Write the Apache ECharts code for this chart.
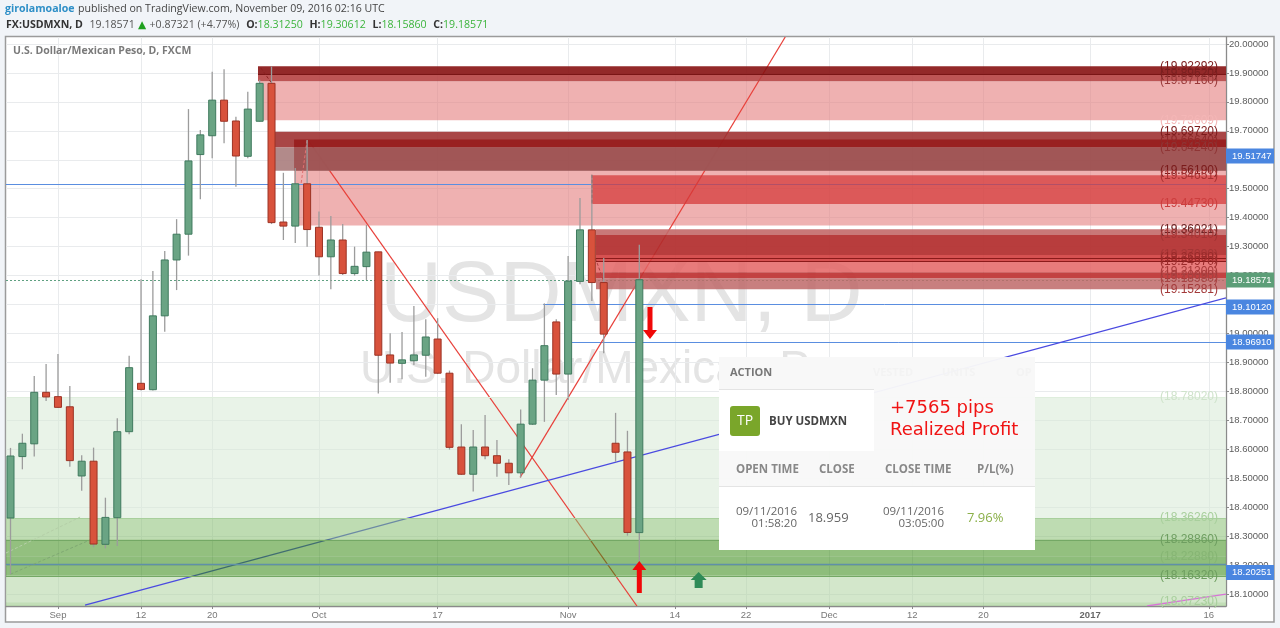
<!DOCTYPE html>
<html>
<head>
<meta charset="utf-8">
<title>USDMXN</title>
<script src="https://cdn.jsdelivr.net/npm/echarts@6/dist/echarts.min.js"></script>
<style>
html,body{margin:0;padding:0;background:#f1f4f8;}
#main{width:1280px;height:628px;}
</style>
</head>
<body>
<div id="main"></div>
<script>
// daily candles, index 0 = 2016-08-26, index 53 = 2016-11-09
var opens = [18.363,18.575,18.619,18.797,18.782,18.747,18.508,18.559,18.272,18.364,18.661,18.828,18.806,19.061,19.254,19.343,19.618,19.683,19.806,19.734,19.612,19.733,19.864,19.385,19.371,19.517,19.367,19.265,19.323,19.207,19.231,19.282,18.926,18.897,18.906,18.925,18.981,18.863,18.608,18.514,18.608,18.578,18.552,18.519,18.687,18.839,19.040,18.860,19.180,19.358,19.176,18.621,18.591,18.3125];
var highs = [18.605,18.654,18.853,18.895,18.929,18.819,18.580,18.606,18.433,18.707,18.923,19.187,19.216,19.285,19.395,19.775,19.703,19.904,19.913,19.749,19.835,19.876,19.922,19.555,19.572,19.668,19.421,19.406,19.378,19.300,19.375,19.282,19.001,19.005,19.095,19.049,19.053,18.872,18.687,18.667,18.719,18.632,18.566,18.738,18.880,19.104,19.049,19.268,19.468,19.548,19.261,18.726,18.664,19.30612];
var lows = [18.169,18.531,18.575,18.767,18.743,18.540,18.457,18.262,18.258,18.266,18.652,18.803,18.803,19.006,19.150,19.269,19.464,19.605,19.657,19.507,19.605,19.732,19.378,19.323,19.313,19.300,19.200,19.153,19.202,19.200,19.185,18.793,18.830,18.842,18.891,18.851,18.860,18.599,18.511,18.454,18.566,18.505,18.477,18.503,18.684,18.695,18.788,18.770,19.170,19.112,18.932,18.557,18.302,18.1586];
var closes = [18.577,18.621,18.797,18.781,18.745,18.561,18.559,18.273,18.365,18.661,18.882,18.807,19.061,19.254,19.343,19.596,19.686,19.806,19.733,19.613,19.775,19.864,19.383,19.371,19.517,19.359,19.265,19.323,19.207,19.232,19.281,18.925,18.898,18.909,18.926,18.988,18.863,18.607,18.514,18.608,18.578,18.552,18.519,18.687,18.839,18.958,18.860,19.181,19.358,19.176,18.998,18.590,18.313,19.18571];

var xTicks = [4,11,17,26,36,47,56,62,69,76,82,91,101];
var xTickLabels = ['Sep','12','20','Oct','17','Nov','14','22','Dec','12','20','2017','16'];
var yTicks = [20,19.9,19.8,19.7,19.6,19.5,19.4,19.3,19.2,19.1,19,18.9,18.8,18.7,18.6,18.5,18.4,18.3,18.2,18.1];

var xMin = -0.38, xMax = 102.45, yMin = 18.059, yMax = 20.024;

// supply / demand zones, the pale ones go under the drawn lines
var paleStart = [20.95,23.9,xMin,xMin,xMin];
var paleTop = [19.8716,19.5619,18.7802,18.1632,18.0723];
var paleBottom = [19.73609,19.3728,18.3626,18.0723,18.059];
var paleColors = ['rgba(228,125,125,.6)','rgba(228,125,125,.6)','rgba(215,233,213,.55)','rgba(175,211,160,.55)','rgba(144,195,124,.55)'];

var zoneStart = [20.86,20.86,22,22,23.9,23.9,48.93,49.35,49.35,49.35,49.35,49.35,49.35,xMin,xMin,xMin];
var zoneTop = [19.92292,19.8962,19.6972,19.6424,19.6696,19.6424,19.54651,19.36021,19.3401,19.2709,19.2497,19.212,19.1898,18.3626,18.2886,18.2288];
var zoneBottom = [19.8962,19.8716,19.6424,19.5619,19.6424,19.5619,19.4473,19.3401,19.2709,19.2497,19.212,19.1898,19.15281,18.2886,18.2288,18.1632];
var zoneColors = ['rgba(135,18,18,.9)','rgba(182,66,66,.9)','rgba(160,50,50,.9)','rgba(170,125,125,.9)','rgba(150,26,26,.85)','rgba(158,80,80,.9)','rgba(212,55,55,.72)','rgba(195,105,105,.9)','rgba(178,45,45,.92)','rgba(210,62,62,.9)','rgba(228,100,100,.85)','rgba(190,50,50,.92)','rgba(190,105,105,.85)','rgba(137,191,115,.55)','rgba(58,140,22,.55)','rgba(50,134,14,.55)'];

// drawn lines, from x,y to x,y
var lineX1 = [xMin,44.9,47.3,xMin,25.08,42.95,6.28,95.8];
var lineY1 = [19.51747,19.1012,18.9691,19.18571,19.668,18.503,18.062,18.059];
var lineX2 = [xMax,xMax,xMax,xMax,52.8,65.3,xMax,xMax];
var lineY2 = [19.51747,19.1012,18.9691,19.18571,18.059,20.024,19.123,18.1];
var lineStyles = [
	{stroke:'#5a8ee0',lineWidth:1},{stroke:'#5a8ee0',lineWidth:1},{stroke:'#5a8ee0',lineWidth:1},
	{stroke:'#5fa081',lineWidth:1,lineDash:[2,2]},{stroke:'#e8403a',lineWidth:1.2},{stroke:'#e8403a',lineWidth:1.2},{stroke:'#4a4ae0',lineWidth:1.3},
	{stroke:'#d873d8',lineWidth:1.3}
];

// thin lines that sit on top of the zones
var edgeX1 = [xMin,20.86,49.35,49.35,xMin,xMin,xMin,xMin];
var edgeY = [18.20251,19.8962,19.2608,19.2497,18.2886,18.1632,18.3626,18.7802];
var edgeStyles = [
	{stroke:'#5f90a8',lineWidth:1.3},{stroke:'#7a1515',lineWidth:1},{stroke:'#8b1a1a',lineWidth:1},{stroke:'#8b1a1a',lineWidth:1},
	{stroke:'#74a865',lineWidth:1},{stroke:'#74a865',lineWidth:1},{stroke:'#a8cf9c',lineWidth:1},{stroke:'#dfeedd',lineWidth:1}
];

var dashX1 = [-0.38,0,21.1,24.5,49,49.3];
var dashY1 = [18.242,18.169,19.917,19.52,19.548,19.26];
var dashX2 = [5.86,6.7,22,25,49,50];
var dashY2 = [18.366,18.287,19.865,19.668,19.447,19.18];
var dashColors = ['#b5cfa8','#7fa873','#8b2020','#e07070','#7a1515','#b04040'];

// level texts on the right of the zones
var levelValues = [19.92292,19.8962,19.8716,19.73609,19.6972,19.6664,19.6424,19.5619,19.54651,19.4473,19.3728,19.36021,19.3401,19.2709,19.2608,19.2497,19.212,19.2009,19.1898,19.15281,18.7802,18.3626,18.2886,18.2288,18.1632,18.0723];
var levelTexts = ['(19.92292)','(19.89620)','(19.87160)','(19.73609)','(19.69720)','(19.66640)','(19.64240)','(19.56190)','(19.54651)','(19.44730)','(19.37280)','(19.36021)','(19.34010)','(19.27090)','(19.26080)','(19.24970)','(19.21200)','(19.20090)','(19.18980)','(19.15281)','(18.78020)','(18.36260)','(18.28860)','(18.22880)','(18.16320)','(18.07230)'];
var levelColors = ['#7a1a1a','#7a2020','#9a3a3a','#f4b6b6','#7a1a1a','#8f2a2a','#8f3535','#7a1a1a','#a83232','#cc3d3d','#e3b3b3','#6b2424','#a33535','#a33535','#9a2a2a','#9a2a2a','#a83a3a','#a83a3a','#a84444','#a33a3a','#cfe3cb','#a8cf9c','#6e9e60','#86b574','#6e9e60','#a8cf9c'];

// price tags on the axis, placed where the picture has them
var tagTexts = ['19.51747','19.18571','19.10120','18.96910','18.20251'];
var tagPositions = [19.613,19.185,19.0915,18.971,18.1745];
var tagColors = ['#4a86e0','#5c9e78','#4a86e0','#4a86e0','#4a86e0'];

// arrows
var arrowX = [53,53.9,58];
var arrowY = [18.159,19.036,18.149];

var chart = echarts.init(document.getElementById('main'));

function candleItem(params,api){
	var i = api.value(0);
	var o = api.coord([i,api.value(1)]);
	var h = api.coord([i,api.value(2)]);
	var l = api.coord([i,api.value(3)]);
	var c = api.coord([i,api.value(4)]);
	var up = api.value(4) >= api.value(1);
	var top = Math.min(o[1],c[1]), bottom = Math.max(o[1],c[1]);
	return {type:'group',children:[
		{type:'line',shape:{x1:o[0],y1:h[1],x2:o[0],y2:l[1]},style:{stroke:'#9c9c9c',lineWidth:1.3}},
		{type:'rect',shape:{x:o[0]-3.5,y:top,width:7,height:Math.max(bottom-top,1)},style:{fill:up?'#6aa484':'#d8523c',stroke:up?'#3f7a5e':'#9c3325',lineWidth:1}}
	]};
}

function zoneItem(colors){
	return function(params,api){
		var a = api.coord([api.value(0),api.value(1)]);
		var b = api.coord([xMax,api.value(2)]);
		return {type:'rect',shape:{x:a[0],y:a[1],width:b[0]-a[0],height:b[1]-a[1]},style:{fill:colors[params.dataIndex]}};
	};
}

function lineItem(styles){
	return function(params,api){
		var a = api.coord([api.value(0),api.value(1)]);
		var b = api.coord([api.value(2),api.value(3)]);
		var st = styles[params.dataIndex];
		//flat lines stay sharp on one pixel row
		if(api.value(1) == api.value(3)){
			a[1] = b[1] = Math.round(a[1]) + 0.5;
		}
		return {type:'line',shape:{x1:a[0],y1:a[1],x2:b[0],y2:b[1]},style:{stroke:st.stroke,lineWidth:st.lineWidth,lineDash:st.lineDash}};
	};
}

function levelItem(params,api){
	var p = api.coord([xMax,api.value(0)]);
	return {type:'text',x:p[0]-8,y:p[1],style:{text:levelTexts[params.dataIndex],fill:levelColors[params.dataIndex],font:'12px "Liberation Sans"',align:'right',verticalAlign:'middle'}};
}

function tagItem(params,api){
	var p = api.coord([xMax,api.value(0)]);
	return {type:'group',children:[
		{type:'rect',shape:{x:p[0],y:p[1]-7.5,width:48,height:15},style:{fill:tagColors[params.dataIndex]}},
		{type:'text',x:p[0]+6,y:p[1],style:{text:tagTexts[params.dataIndex],fill:'#fff',font:'9.5px "Liberation Sans"',align:'left',verticalAlign:'middle'}}
	]};
}

function rows(){
	var cols = Array.prototype.slice.call(arguments);
	return cols[0].map(function(v,i){
		return cols.map(function(c){return c[i];});
	});
}

var dashStyles = dashColors.map(function(c){return {stroke:c,lineWidth:1,lineDash:[3,2]};});
var edgeX2 = edgeY.map(function(){return xMax;});

function panelText(text,x,y,font,fill,align){
	return {type:'text',z:52,silent:true,x:x,y:y,style:{text:text,font:font,fill:fill,align:align||'left',verticalAlign:'middle'}};
}
function panelRect(x,y,w,h,fill,r){
	return {type:'rect',z:51,silent:true,shape:{x:x,y:y,width:w,height:h,r:r||0},style:{fill:fill}};
}

var headFont = '"Open Sans"';
var option = {
	animation:false,
	backgroundColor:'#f1f4f8',
	grid:{left:6,right:54,top:37,bottom:22},
	xAxis:{
		type:'value',min:xMin,max:xMax,
		axisLine:{onZero:false,lineStyle:{color:'#8a8a8a',width:1.3}},
		axisTick:{customValues:xTicks,length:3,lineStyle:{color:'#8a8a8a'}},
		axisLabel:{
			customValues:xTicks,margin:4,color:'#777',fontSize:9.5,fontFamily:'Liberation Sans',
			formatter:function(v){
				var t = xTickLabels[xTicks.indexOf(v)];
				return t == '2017' ? '{b|2017}' : t;
			},
			rich:{b:{fontWeight:'bold',color:'#666',fontSize:9.5,fontFamily:'Liberation Sans'}}
		},
		splitLine:{show:true,lineStyle:{color:'#e9ebed',width:1}}
	},
	yAxis:{
		type:'value',position:'right',min:yMin,max:yMax,
		axisLine:{show:true,onZero:false,lineStyle:{color:'#8a8a8a',width:1.3}},
		axisTick:{show:true,customValues:yTicks,length:3,lineStyle:{color:'#8a8a8a'}},
		axisLabel:{
			customValues:yTicks,margin:3,color:'#5c5c5c',fontSize:9.5,fontFamily:'Liberation Sans',
			formatter:function(v){return v.toFixed(5);}
		},
		splitLine:{show:true,lineStyle:{color:'#e9ebed',width:1}}
	},
	series:[
		{type:'custom',name:'paleZones',z:2,clip:true,renderItem:zoneItem(paleColors),data:rows(paleStart,paleTop,paleBottom)},
		{type:'custom',name:'lines',z:3,clip:true,renderItem:lineItem(lineStyles),data:rows(lineX1,lineY1,lineX2,lineY2)},
		{type:'custom',name:'zones',z:4,clip:true,renderItem:zoneItem(zoneColors),data:rows(zoneStart,zoneTop,zoneBottom)},
		{type:'custom',name:'zoneEdges',z:5,clip:true,renderItem:lineItem(edgeStyles),data:rows(edgeX1,edgeY,edgeX2,edgeY)},
		{type:'custom',name:'dashes',z:5,clip:true,renderItem:lineItem(dashStyles),data:rows(dashX1,dashY1,dashX2,dashY2)},
		{type:'custom',name:'USDMXN',z:6,clip:true,renderItem:candleItem,data:rows(opens.map(function(v,i){return i;}),opens,highs,lows,closes)},
		{type:'custom',name:'levels',z:7,clip:false,renderItem:levelItem,data:rows(levelValues)},
		{type:'scatter',name:'arrows',z:8,silent:true,data:[
			{value:[arrowX[0],arrowY[0]],symbol:'path://M7 0L14 9L9.5 9L9.5 32L4.5 32L4.5 9L0 9Z',symbolSize:[14,32],itemStyle:{color:'#f00808',opacity:1}},
			{value:[arrowX[1],arrowY[1]],symbol:'path://M7 32L14 23L9.5 23L9.5 0L4.5 0L4.5 23L0 23Z',symbolSize:[14,32],itemStyle:{color:'#f00808',opacity:1}},
			{value:[arrowX[2],arrowY[2]],symbol:'path://M8 0L16 8L12 8L12 16L4 16L4 8L0 8Z',symbolSize:[16,16],itemStyle:{color:'#2e8b57',opacity:1}}
		]},
		{type:'custom',name:'tags',z:9,clip:false,renderItem:tagItem,data:rows(tagPositions)}
	],
	graphic:{elements:[
		{type:'rect',z:-10,silent:true,shape:{x:5.5,y:36.5,width:1268.5,height:585.5},style:{fill:'#fff',stroke:'#9b9b9b',lineWidth:1.5}},
		{type:'text',z:-5,silent:true,x:380,y:340,style:{text:'USDMXN, D',font:'86px "Liberation Sans"',fill:'#e4e4e4',verticalAlign:'bottom'}},
		{type:'text',z:-5,silent:true,x:360,y:393,style:{text:'U.S. Dollar/Mexican Peso',font:'46px "Liberation Sans"',fill:'#e4e4e4',verticalAlign:'bottom'}},
		{type:'text',z:60,silent:true,x:5,y:9,style:{
			text:'{a|girolamoaloe} {b|published on TradingView.com, November 09, 2016 02:16 UTC}',verticalAlign:'middle',
			rich:{a:{font:'bold 10.6px '+headFont,fill:'#2e8fc7'},b:{font:'10.6px '+headFont,fill:'#444'}}
		}},
		{type:'text',z:60,silent:true,x:6,y:25,style:{
			text:'{k|FX:USDMXN, D}  {g|19.18571} {t|▲} {g|+0.87321 (+4.77%)}  {k|O:}{v|18.31250}  {k|H:}{v|19.30612}  {k|L:}{v|18.15860}  {k|C:}{v|19.18571}',verticalAlign:'middle',
			rich:{
				k:{font:'bold 10.6px '+headFont,fill:'#333'},
				g:{font:'10.6px '+headFont,fill:'#555'},
				t:{font:'10.6px "DejaVu Sans"',fill:'#1fa01f'},
				v:{font:'10.6px '+headFont,fill:'#3cb43c'}
			}
		}},
		{type:'text',z:60,silent:true,x:13,y:51,style:{text:'U.S. Dollar/Mexican Peso, D, FXCM',font:'bold 10.5px "Open Sans"',fill:'#7a7a7a',verticalAlign:'middle'}},

		panelRect(719,357,316,193,'rgba(248,248,248,.97)'),
		panelRect(719,390,155,61,'#fff'),
		panelRect(719,487,316,63,'#fff'),
		panelRect(719,389,155,1,'#e4e4e4'),
		panelRect(719,486,316,1,'#e4e4e4'),
		panelRect(730,406,30,30,'#7aa62a',3),
		panelText('ACTION',730,373,'bold 11px "Open Sans"','#777'),
		panelText('VESTED',873,373,'bold 11px "Open Sans"','#f3f3f3'),
		panelText('UNITS',942,373,'bold 11px "Open Sans"','#f3f3f3'),
		panelText('OP',1016,373,'bold 11px "Open Sans"','#f3f3f3'),
		panelText('TP',745,421,'14px "Open Sans"','#fff','center'),
		panelText('BUY USDMXN',769,421.5,'bold 11.5px "Open Sans"','#444'),
		panelText('+7565 pips',890,408,'18px "DejaVu Sans"','#f01414'),
		panelText('Realized Profit',890,430,'18px "DejaVu Sans"','#f01414'),
		panelText('OPEN TIME',736,470,'bold 11.5px "Open Sans"','#888'),
		panelText('CLOSE',819,470,'bold 11.5px "Open Sans"','#888'),
		panelText('CLOSE TIME',885,470,'bold 11.5px "Open Sans"','#888'),
		panelText('P/L(%)',977,470,'bold 11.5px "Open Sans"','#888'),
		panelText('09/11/2016',797,512,'11.5px "Open Sans"','#666','right'),
		panelText('01:58:20',797,524,'11.5px "Open Sans"','#666','right'),
		panelText('18.959',808,518,'13px "Open Sans"','#666'),
		panelText('09/11/2016',944,512,'11.5px "Open Sans"','#666','right'),
		panelText('03:05:00',944,524,'11.5px "Open Sans"','#666','right'),
		panelText('7.96%',967,518,'13px "Open Sans"','#8bb04a')
	]}
};
chart.setOption(option);
</script>
</body>
</html>
